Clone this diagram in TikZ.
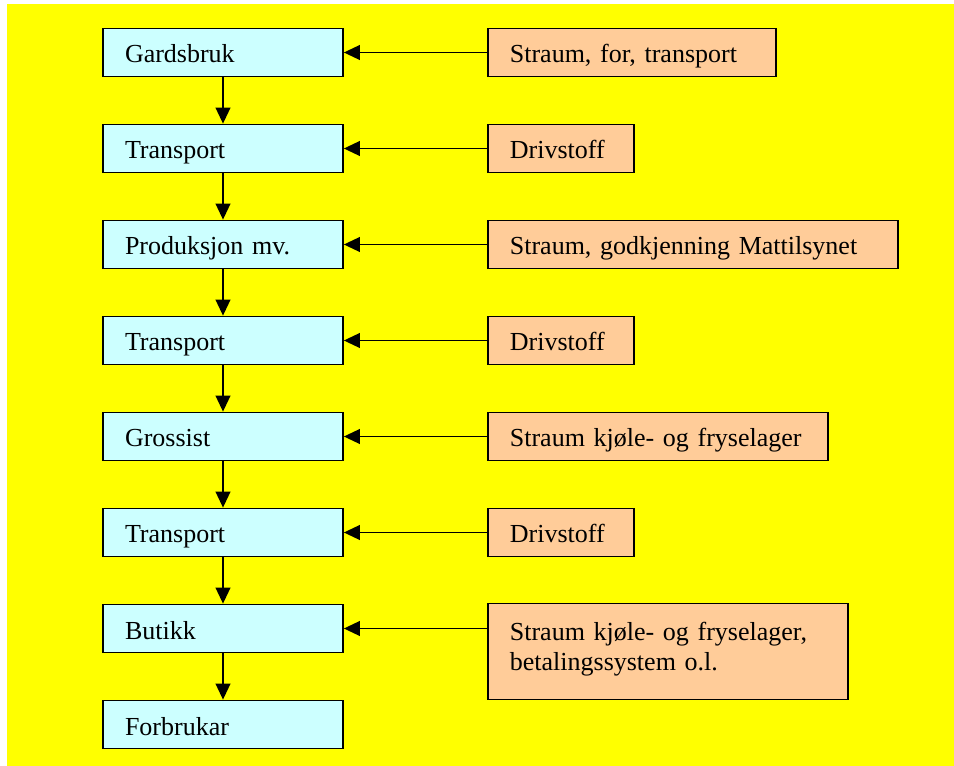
\documentclass[tikz,border=0pt]{standalone}
\usepackage{fontspec}
\setmainfont{Liberation Serif}
\usepackage{tikz}
\usetikzlibrary{arrows.meta}
\definecolor{stagefill}{HTML}{CCFFFF}
\definecolor{inputfill}{HTML}{FFCC99}
\definecolor{bgyellow}{HTML}{FFFF00}
\tikzstyle{stagebox} = [draw=black, fill=stagefill, line width=1.3pt,
    rectangle, inner xsep=16.5pt, inner ysep=0pt, text width=147pt,
    text height=17pt, text depth=1.25pt, minimum height=36pt, align=left]
\tikzstyle{inputbox} = [draw=black, fill=inputfill, line width=1.3pt,
    rectangle, inner xsep=16.5pt, inner ysep=0pt, anchor=west,
    text height=17pt, text depth=1.25pt, minimum height=36pt, align=left]
\tikzstyle{flow} = [line width=1.4pt, -{Triangle[length=12pt,width=11pt]}]

\begin{document}
\begin{tikzpicture}[x=0.75pt, y=-0.75pt,
        every node/.style={font=\fontsize{19.5}{22.5}\selectfont}]
                \useasboundingbox (0,0) rectangle (954,766);
                \fill[bgyellow] (7,4) rectangle (954,766);
                % stages
                \node[stagebox] (gard) at (223,52.5) {Gardsbruk};
                \node[stagebox] (trans1) at (223,148.5) {Transport};
                \node[stagebox] (prod) at (223,244.5) {Produksjon mv.};
                \node[stagebox] (trans2) at (223,340.5) {Transport};
                \node[stagebox] (gross) at (223,436.5) {Grossist};
                \node[stagebox] (trans3) at (223,532.5) {Transport};
                \node[stagebox] (butikk) at (223,628.5) {Butikk};
                \node[stagebox] (forbr) at (223,724.5) {Forbrukar};
                % inputs
                \node[inputbox, text width=183pt] (inGard) at (487,52.5) {Straum, for, transport};
                \node[inputbox, text width=76.5pt] (inTrans1) at (487,148.5) {Drivstoff};
                \node[inputbox, text width=274.5pt] (inProd) at (487,244.5) {Straum, godkjenning Mattilsynet};
                \node[inputbox, text width=76.5pt] (inTrans2) at (487,340.5) {Drivstoff};
                \node[inputbox, text width=222pt] (inGross) at (487,436.5) {Straum kjøle- og fryselager};
                \node[inputbox, text width=76.5pt] (inTrans3) at (487,532.5) {Drivstoff};
                \node[inputbox, text width=237pt, minimum height=72pt,
                    text height=17pt, text depth=32.75pt] (inButikk) at (487,651.5)
                    {Straum kjøle- og fryselager,\\betalingssystem o.l.};
                % chain
                \draw[flow] (gard) -- (trans1);
                \draw[flow] (trans1) -- (prod);
                \draw[flow] (prod) -- (trans2);
                \draw[flow] (trans2) -- (gross);
                \draw[flow] (gross) -- (trans3);
                \draw[flow] (trans3) -- (butikk);
                \draw[flow] (butikk) -- (forbr);
                % inputs into stages
                \draw[flow] (inGard.west) -- (gard.east);
                \draw[flow] (inTrans1.west) -- (trans1.east);
                \draw[flow] (inProd.west) -- (prod.east);
                \draw[flow] (inTrans2.west) -- (trans2.east);
                \draw[flow] (inGross.west) -- (gross.east);
                \draw[flow] (inTrans3.west) -- (trans3.east);
                \draw[flow] (inButikk.west |- butikk.east) -- (butikk.east);
\end{tikzpicture}
\end{document}
